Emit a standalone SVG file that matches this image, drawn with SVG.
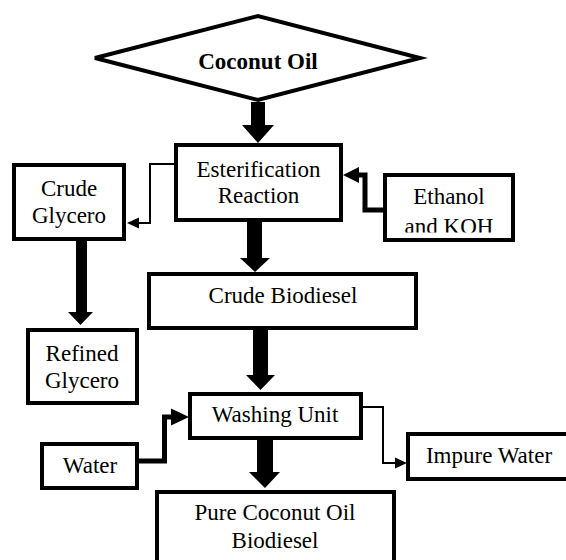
<svg xmlns="http://www.w3.org/2000/svg" width="566" height="560" viewBox="0 0 566 560">
<style>
.nbox{fill:#fff;stroke:#000;stroke-width:4}
.lbl{font-family:'Liberation Serif','Times New Roman',serif;font-size:23px;text-anchor:middle;fill:#000}
.bold{font-weight:bold}
.thick{fill:#000;stroke:none}
.elbow{fill:none;stroke:#000;stroke-width:5}
.thin{fill:none;stroke:#000;stroke-width:2}
</style>
<defs>
<clipPath id="clipEth"><rect x="385" y="175" width="128" height="57.5"/></clipPath>
</defs>
<rect width="566" height="560" fill="#fff"/>
<g id="coconut-oil">
<polygon class="nbox" points="95,58 258,16 420,58 258,100"/>
<text class="lbl bold" x="258" y="69">Coconut Oil</text>
</g>
<g id="esterification">
<rect class="nbox" x="176" y="145" width="165" height="75"/>
<text class="lbl" x="258.5" y="177">Esterification</text>
<text class="lbl" x="258.5" y="203">Reaction</text>
</g>
<g id="crude-glycero">
<rect class="nbox" x="14" y="165" width="110" height="74"/>
<text class="lbl" x="69" y="196">Crude</text>
<text class="lbl" x="69" y="223">Glycero</text>
</g>
<g id="ethanol-koh">
<rect class="nbox" x="385" y="175" width="128" height="65"/>
<text class="lbl" x="449" y="204">Ethanol</text>
<text class="lbl" x="449" y="234" clip-path="url(#clipEth)">and KOH</text>
</g>
<g id="crude-biodiesel">
<rect class="nbox" x="149" y="274" width="267" height="54"/>
<text class="lbl" x="283" y="303">Crude Biodiesel</text>
</g>
<g id="refined-glycero">
<rect class="nbox" x="28" y="330" width="109" height="73"/>
<text class="lbl" x="82" y="361">Refined</text>
<text class="lbl" x="82" y="388">Glycero</text>
</g>
<g id="washing-unit">
<rect class="nbox" x="190" y="394" width="171" height="44"/>
<text class="lbl" x="275" y="422">Washing Unit</text>
</g>
<g id="water">
<rect class="nbox" x="42" y="444" width="95" height="44"/>
<text class="lbl" x="90" y="473">Water</text>
</g>
<g id="impure-water">
<rect class="nbox" x="408" y="434" width="162" height="45"/>
<text class="lbl" x="489" y="463">Impure Water</text>
</g>
<g id="pure-biodiesel">
<rect class="nbox" x="157" y="492" width="237" height="80"/>
<text class="lbl" x="275" y="520">Pure Coconut Oil</text>
<text class="lbl" x="275" y="548">Biodiesel</text>
</g>
<g id="connectors">
<polygon class="thick" points="251,102 265,102 265,125 274,125 258,143 242,125 251,125"/>
<polygon class="thick" points="247,222 262,222 262,258 270,258 255,272 240,258 247,258"/>
<polygon class="thick" points="253,330 268,330 268,375 275,375 260.5,390 246,375 253,375"/>
<polygon class="thick" points="257,440 273,440 273,472 280,472 265,488 249,472 257,472"/>
<polygon class="thick" points="76,241 87,241 87,312 93,312 80.5,325 68,312 76,312"/>
<polyline class="elbow" points="385,210 365,210 365,175 356,175"/>
<polygon class="thick" points="343,175 359,167 359,183"/>
<polyline class="elbow" points="139,461 164.5,461 164.5,417 173,417"/>
<polygon class="thick" points="189,417 171,408.5 171,425.5"/>
<polyline class="thin" points="176,164 150,164 150,223 136,223"/>
<polygon class="thick" points="127,223 139,217.5 139,228.5"/>
<polyline class="thin" points="361,407 383,407 383,463 397,463"/>
<polygon class="thick" points="407,463 395,457.5 395,468.5"/>
</g>
</svg>
